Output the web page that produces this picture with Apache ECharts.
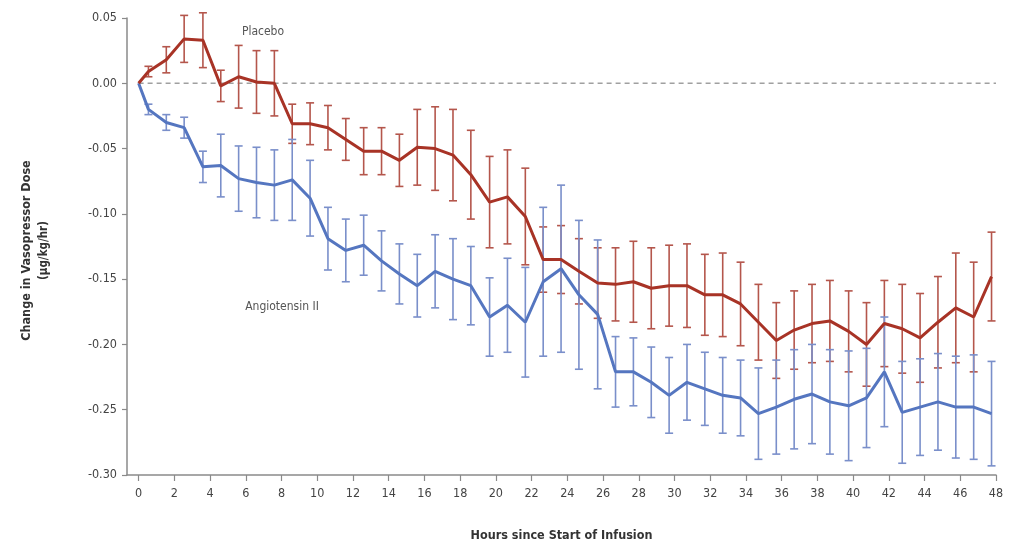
<!DOCTYPE html>
<html>
<head>
<meta charset="utf-8">
<script src="https://cdn.jsdelivr.net/npm/echarts@6/dist/echarts.min.js"></script>
<style>
  html, body { margin: 0; padding: 0; background: #ffffff; }
  #chart { width: 1009px; height: 547px; }
</style>
</head>
<body>
<div id="chart"></div>
<script>
// Measurement times (hours since start of infusion)
const hours = [0, 0.55, 1.55, 2.55, 3.6, 4.6, 5.6, 6.6, 7.6, 8.6, 9.6, 10.6, 11.6, 12.6, 13.6, 14.6,
  15.6, 16.6, 17.6, 18.6, 19.65, 20.65, 21.65, 22.65, 23.65, 24.65, 25.7, 26.7, 27.7, 28.7, 29.7,
  30.7, 31.7, 32.7, 33.7, 34.7, 35.7, 36.7, 37.7, 38.7, 39.75, 40.75, 41.75, 42.75, 43.75, 44.75,
  45.75, 46.75, 47.75];

// Placebo: mean change and error-bar half width
const placeboMean = [0, 0.009, 0.018, 0.034, 0.033, -0.002, 0.005, 0.001, 0.000, -0.031, -0.031,
  -0.034, -0.043, -0.052, -0.052, -0.059, -0.049, -0.050, -0.055, -0.070, -0.091, -0.087, -0.102,
  -0.135, -0.135, -0.144, -0.153, -0.154, -0.152, -0.157, -0.155, -0.155, -0.162, -0.162, -0.169,
  -0.183, -0.197, -0.189, -0.184, -0.182, -0.190, -0.200, -0.184, -0.188, -0.195, -0.183, -0.172,
  -0.179, -0.148];
const placeboErr = [0, 0.004, 0.010, 0.018, 0.021, 0.012, 0.024, 0.024, 0.025, 0.015, 0.016,
  0.017, 0.016, 0.018, 0.018, 0.020, 0.029, 0.032, 0.035, 0.034, 0.035, 0.036, 0.037,
  0.025, 0.026, 0.025, 0.027, 0.028, 0.031, 0.031, 0.031, 0.032, 0.031, 0.032, 0.032,
  0.029, 0.029, 0.030, 0.030, 0.031, 0.031, 0.032, 0.033, 0.034, 0.034, 0.035, 0.042,
  0.042, 0.034];

// Angiotensin II: mean change and error-bar half width
const angioMean = [0, -0.020, -0.030, -0.034, -0.064, -0.063, -0.073, -0.076, -0.078, -0.074, -0.088,
  -0.119, -0.128, -0.124, -0.136, -0.146, -0.155, -0.144, -0.150, -0.155, -0.179, -0.170, -0.183,
  -0.152, -0.142, -0.162, -0.177, -0.221, -0.221, -0.229, -0.239, -0.229, -0.234, -0.239, -0.241,
  -0.253, -0.248, -0.242, -0.238, -0.244, -0.247, -0.241, -0.221, -0.252, -0.248, -0.244, -0.248,
  -0.248, -0.253];
const angioErr = [0, 0.004, 0.006, 0.008, 0.012, 0.024, 0.025, 0.027, 0.027, 0.031, 0.029,
  0.024, 0.024, 0.023, 0.023, 0.023, 0.024, 0.028, 0.031, 0.030, 0.030, 0.036, 0.042,
  0.057, 0.064, 0.057, 0.057, 0.027, 0.026, 0.027, 0.029, 0.029, 0.028, 0.029, 0.029,
  0.035, 0.036, 0.038, 0.038, 0.040, 0.042, 0.038, 0.042, 0.039, 0.037, 0.037, 0.039,
  0.040, 0.040];

// Axis tick values
const xTicks = [0, 2, 4, 6, 8, 10, 12, 14, 16, 18, 20, 22, 24, 26, 28, 30, 32, 34, 36, 38, 40, 42, 44, 46, 48];
const yTicks = [0.05, 0.00, -0.05, -0.10, -0.15, -0.20, -0.25, -0.30];

const FONT = '"DejaVu Sans Condensed", "Liberation Sans Narrow", "Open Sans", sans-serif';
const RED = '#a83326';
const RED_BAR = '#b4564c';
const BLUE = '#5576c0';
const BLUE_BAR = '#7a8fca';

function errorBarSeries(name, mean, err, color) {
  return {
    name: name,
    type: 'custom',
    silent: true,
    z: 2,
    data: hours.map((h, i) => [h, mean[i] - err[i], mean[i] + err[i]]),
    renderItem: function (params, api) {
      const lo = api.value(1), hi = api.value(2);
      if (hi - lo <= 0) return null;
      const top = api.coord([api.value(0), hi]);
      const bot = api.coord([api.value(0), lo]);
      const cap = 4;
      const style = { stroke: color, lineWidth: 1.6 };
      return {
        type: 'group',
        children: [
          { type: 'line', shape: { x1: top[0], y1: top[1], x2: bot[0], y2: bot[1] }, style: style },
          { type: 'line', shape: { x1: top[0] - cap, y1: top[1], x2: top[0] + cap, y2: top[1] }, style: style },
          { type: 'line', shape: { x1: bot[0] - cap, y1: bot[1], x2: bot[0] + cap, y2: bot[1] }, style: style }
        ]
      };
    }
  };
}

const chart = echarts.init(document.getElementById('chart'), null, { renderer: 'canvas' });

chart.setOption({
  backgroundColor: '#ffffff',
  animation: false,
  grid: { left: 127, right: 13, top: 18, bottom: 64, containLabel: false },
  xAxis: {
    type: 'value',
    min: -0.65,
    max: 48,
    name: 'Hours since Start of Infusion',
    nameLocation: 'middle',
    nameGap: 54,
    nameTextStyle: { fontFamily: FONT, fontSize: 12.5, fontWeight: 'bold', color: '#333' },
    axisLine: { show: true, onZero: false, lineStyle: { color: '#8a8a8a', width: 1.5 } },
    axisTick: { show: true, customValues: xTicks, length: 6, lineStyle: { color: '#8a8a8a', width: 1.2 } },
    axisLabel: { customValues: xTicks, margin: 12, fontFamily: FONT, fontSize: 12.5, color: '#444' },
    splitLine: { show: false }
  },
  yAxis: {
    type: 'value',
    min: -0.30,
    max: 0.05,
    interval: 0.05,
    axisLine: { show: true, onZero: false, lineStyle: { color: '#8a8a8a', width: 1.5 } },
    axisTick: { show: true, length: 5, lineStyle: { color: '#8a8a8a', width: 1.2 } },
    axisLabel: {
      margin: 10, fontFamily: FONT, fontSize: 12.5, color: '#444',
      formatter: function (v) {
        const r = Math.round(v * 100) / 100;
        return (r === 0 ? 0 : r).toFixed(2);
      }
    },
    splitLine: { show: false }
  },
  graphic: [
    {
      type: 'text', x: 27, y: 250.5, rotation: Math.PI / 2,
      style: { text: 'Change in Vasopressor Dose', fontFamily: FONT, fontSize: 12.5, fontWeight: 'bold',
        fill: '#333', align: 'center', verticalAlign: 'middle' }
    },
    {
      type: 'text', x: 44, y: 250.5, rotation: Math.PI / 2,
      style: { text: '(μg/kg/hr)', fontFamily: FONT, fontSize: 11.5, fontWeight: 'bold',
        fill: '#333', align: 'center', verticalAlign: 'middle' }
    },
    {
      type: 'text', x: 263, y: 32,
      style: { text: 'Placebo', fontFamily: FONT, fontSize: 12, fill: '#555', align: 'center', verticalAlign: 'middle' }
    },
    {
      type: 'text', x: 282, y: 307,
      style: { text: 'Angiotensin II', fontFamily: FONT, fontSize: 12, fill: '#555', align: 'center', verticalAlign: 'middle' }
    }
  ],
  series: [
    {
      name: 'zero',
      type: 'line',
      silent: true,
      symbol: 'none',
      z: 1,
      data: [[0, 0], [48, 0]],
      lineStyle: { color: '#a0a0a0', width: 1.6, type: [5, 4] }
    },
    errorBarSeries('Placebo SE', placeboMean, placeboErr, RED_BAR),
    errorBarSeries('Angiotensin II SE', angioMean, angioErr, BLUE_BAR),
    {
      name: 'Angiotensin II',
      type: 'line',
      symbol: 'none',
      z: 3,
      data: hours.map((h, i) => [h, angioMean[i]]),
      lineStyle: { color: BLUE, width: 3 }
    },
    {
      name: 'Placebo',
      type: 'line',
      symbol: 'none',
      z: 4,
      data: hours.map((h, i) => [h, placeboMean[i]]),
      lineStyle: { color: RED, width: 3 }
    }
  ]
});
</script>
</body>
</html>
